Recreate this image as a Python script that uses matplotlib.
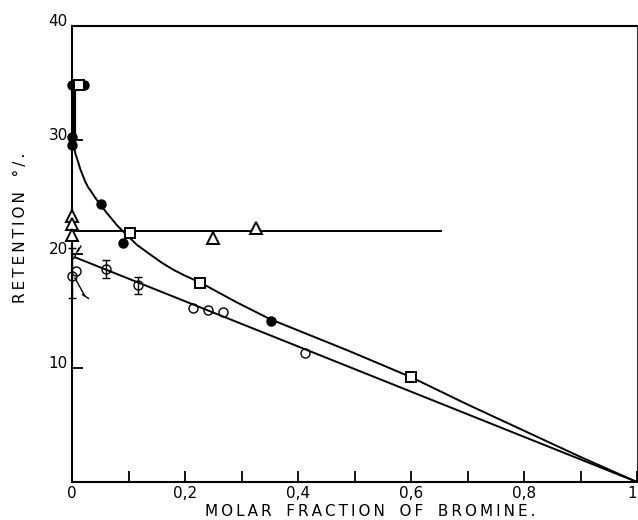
import matplotlib
matplotlib.use("Agg")
import matplotlib.pyplot as plt
import matplotlib.transforms as mtransforms

# ---- data ----
filled_x = [0.0, 0.022, 0.0, 0.0, 0.051, 0.09, 0.352]
filled_y = [34.8, 34.8, 30.3, 29.6, 24.4, 21.0, 14.1]

square_x = [0.012, 0.103, 0.227, 0.60]
square_y = [34.8, 21.8, 17.5, 9.2]

tri_x = [0.0, 0.0, 0.0, 0.25, 0.325]
tri_y = [23.3, 22.6, 21.7, 21.4, 22.3]

open_x = [0.007, 0.214, 0.241, 0.267, 0.412]
open_y = [18.5, 15.3, 15.1, 14.9, 11.3]

err_x = [0.0, 0.06, 0.117]
err_y = [18.1, 18.7, 17.3]
err_lo = [2.0, 0.8, 0.8]
err_hi = [2.4, 0.8, 0.7]

# fitted curves
curve_x = [0.003, 0.003, 0.004, 0.006, 0.01, 0.015, 0.023, 0.028, 0.035, 0.043,
           0.051, 0.06, 0.07, 0.08, 0.09, 0.115, 0.14, 0.16, 0.18, 0.2, 0.227,
           0.29, 0.35, 0.42, 0.49, 0.60, 0.70, 0.80, 0.90, 1.0]
curve_y = [34.8, 29.6, 29.3, 28.8, 28.2, 27.4, 26.4, 25.9, 25.4, 24.8,
           24.3, 23.7, 23.1, 22.5, 22.0, 20.8, 19.9, 19.2, 18.6, 18.1, 17.5,
           15.8, 14.3, 12.9, 11.5, 9.2, 6.8, 4.5, 2.2, 0.0]
line_x = [0.006, 1.0]
line_y = [19.7, 0.0]
hline_x = [0.0, 0.653]
hline_y = [22.0, 22.0]
slant_x = [0.005, 0.023]
slant_y = [17.9, 16.3]
slant2_x = [0.003, 0.012]
slant2_y = [19.6, 20.5]

xticks = [0.0, 0.1, 0.2, 0.3, 0.4, 0.5, 0.6, 0.7, 0.8, 0.9, 1.0]
xticklabels = ["0", "", "0,2", "", "0,4", "", "0,6", "", "0,8", "", "1"]
yticks = [10, 20, 30, 40]
yticklabels = ["10", "20", "30", "40"]

plt.rcParams['font.family'] = ['DejaVu Sans']
fig = plt.figure(figsize=(6.38, 5.2), dpi=100)
ax = fig.add_axes([72/638, 38/520, 565/638, 456/520])
ax.set_xlim(0, 1)
ax.set_ylim(0, 40)

k = 'black'
ax.plot(curve_x, curve_y, color=k, lw=1.4, solid_joinstyle='round', zorder=2)
ax.plot(curve_x[:2], curve_y[:2], color=k, lw=3.0, zorder=2)
ax.plot(line_x, line_y, color=k, lw=1.4, zorder=2)
ax.plot(hline_x, hline_y, color=k, lw=1.4, zorder=2)
ax.plot(slant_x, slant_y, color=k, lw=1.0, zorder=2, marker=(2, 0, 58), ms=6,
        markevery=[1], mew=1.0)
ax.plot(slant2_x, slant2_y, color=k, lw=1.0, zorder=2, marker=(2, 0, -30), ms=5,
        markevery=[1], mew=1.0)

ax.plot(filled_x, filled_y, 'o', ms=6.5, mfc=k, mec=k, zorder=4, clip_on=False)
ax.plot(square_x, square_y, 's', ms=6.5, mfc='white', mec=k, mew=1.4, zorder=4, clip_on=False)
ax.plot(tri_x, tri_y, '^', ms=8, mfc='white', mec=k, mew=1.4, zorder=4, clip_on=False)
ax.plot(open_x, open_y, 'o', ms=6.5, mfc='none', mec=k, mew=1.0, zorder=4, clip_on=False)
ax.errorbar(err_x, err_y, yerr=[err_lo, err_hi], fmt='o', ms=6.5, mfc='none',
            mec=k, mew=1.0, ecolor=k, elinewidth=1.0, capsize=3, capthick=1.0,
            zorder=4, clip_on=False)

for s in ['left', 'bottom', 'top', 'right']:
    ax.spines[s].set_linewidth(1.5)
ax.spines['right'].set_linewidth(0.6)

ax.set_xticks(xticks)
ax.set_xticklabels(xticklabels, fontsize=11)
ax.set_yticks(yticks)
ax.set_yticklabels(yticklabels, fontsize=11)
ax.tick_params(axis='both', direction='in', length=8, width=1.3)
ax.tick_params(axis='x', pad=3)
ax.tick_params(axis='y', pad=3)
xl = ax.get_xticklabels()
xl[-1].set_horizontalalignment('right')

off = mtransforms.ScaledTranslation(0, 4/72, fig.dpi_scale_trans)
for lab in ax.get_yticklabels():
    lab.set_transform(lab.get_transform() + off)

ts = "\u2009"
def spaced(words):
    return "   ".join(ts.join(w) for w in words)

fig.text(370/638, 1 - 512/520, spaced(["MOLAR", "FRACTION", "OF", "BROMINE."]),
         ha='center', va='center', fontsize=11)
fig.text(21/638, 1 - 228/520, spaced(["RETENTION", "°/."]), rotation=90,
         ha='center', va='center', fontsize=11)

fig.savefig("out.png", dpi=100)
